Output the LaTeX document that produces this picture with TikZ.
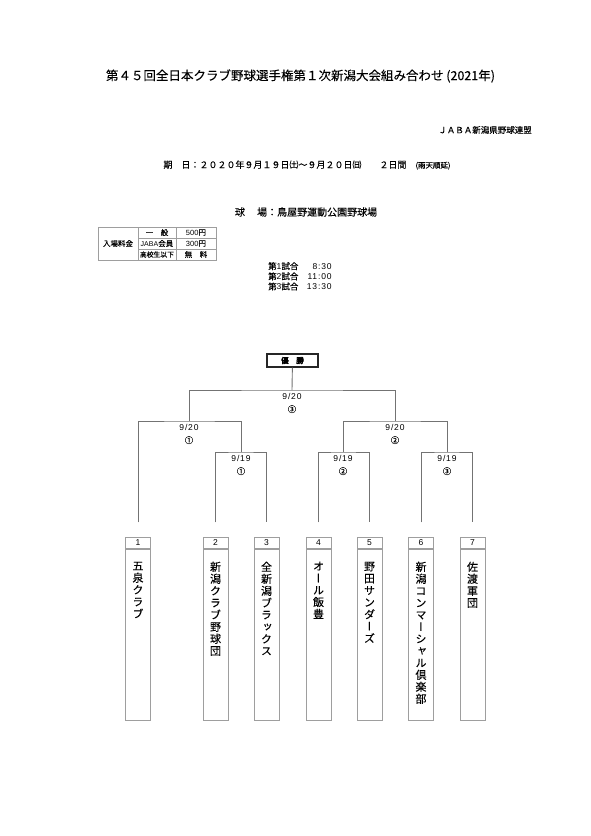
\documentclass[tikz,border=0pt]{standalone}
\usepackage{fontspec}
\setmainfont[FakeBold=0.12]{Noto Sans CJK JP}
\newfontfamily\tatefont[RawFeature=+vert,FakeBold=0.12]{Noto Sans CJK JP}
\newfontfamily\lat{Liberation Sans}
\newfontfamily\latw[LetterSpace=10]{Liberation Sans}
\usetikzlibrary{positioning}
\definecolor{linegray}{gray}{0.45}
\definecolor{boxgray}{gray}{0.62}
\tikzset{
  line/.style={draw=linegray,line width=0.9pt},
  numbox/.style={draw=boxgray,line width=0.6pt,minimum width=25pt,minimum height=10.5pt,inner sep=0pt,font=\lat\fontsize{8.5}{9}\selectfont},
  namebox/.style={draw=boxgray,line width=0.6pt,minimum width=25pt,minimum height=171pt,inner sep=0pt},
  tate/.style={font=\tatefont\fontsize{11}{12}\selectfont,align=center,inner sep=0pt},
  matchlbl/.style={font=\fontsize{8.5}{13}\selectfont,align=center,inner sep=0pt,anchor=north},
  cell/.style={font=\fontsize{7.5}{8}\selectfont,inner sep=0pt},
}
\begin{document}
\begin{tikzpicture}[x=1pt,y=-1pt]
\fill[white] (0,0) rectangle (591,836);
\useasboundingbox (0,0) rectangle (591,836);
% heading
\node[font=\fontsize{12.5}{14}\selectfont] (title) at (300.5,76) {第４５回全日本クラブ野球選手権第１次新潟大会組み合わせ (2021年)};
\node[font=\fontsize{8.5}{10}\selectfont,anchor=east,inner sep=0pt] (renmei) at (532,130) {ＪＡＢＡ新潟県野球連盟};
\node[font=\fontsize{9}{10}\selectfont] (kijitsu) at (307,165) {期　日：２０２０年９月１９日㈯～９月２０日㈰　　２日間　{\fontsize{7.5}{9}\selectfont(雨天順延)}};
\node[font=\fontsize{10}{12}\selectfont] (kyujo) at (306,212) {球　 場：鳥屋野運動公園野球場};
% admission table
\begin{scope}[draw=boxgray,line width=0.6pt]
\draw[line width=1pt] (98,227) rectangle (216,260);
\draw (138,227) -- (138,260);
\draw (176,227) -- (176,260);
\draw (138,238) -- (216,238);
\draw (138,249) -- (216,249);
\end{scope}
\node[cell] (ryokin) at (118,243.5) {入場料金};
\node[cell] (ippan) at (157,232.5) {一　般};
\node[cell] (jaba) at (157,243.5) {{\lat\fontsize{7}{8}\selectfont JABA}会員};
\node[cell,font=\fontsize{6.8}{7}\selectfont] (koko) at (157,254.5) {高校生以下};
\node[cell] (p1) at (196,232.5) {{\lat 500}円};
\node[cell] (p2) at (196,243.5) {{\lat 300}円};
\node[cell] (p3) at (196,254.5) {無　料};
% game times
\node[anchor=north west,inner sep=0pt,font=\fontsize{8.5}{10}\selectfont] (jikan) at (268,262) {\begin{tabular}{@{}l@{\quad}r@{}}第{\lat 1}試合 & {\latw 8:30}\\ 第{\lat 2}試合 & {\latw 11:00}\\ 第{\lat 3}試合 & {\latw 13:30}\end{tabular}};
% teams
\foreach \n/\x/\name in {1/138/{五\\泉\\ク\\ラ\\ブ},
  2/215.5/{新\\潟\\ク\\ラ\\ブ\\野\\球\\団},
  3/266.5/{全\\新\\潟\\ブ\\ラ\\ッ\\ク\\ス},
  4/318.5/{オ\\ー\\ル\\飯\\豊},
  5/369.5/{野\\田\\サ\\ン\\ダ\\ー\\ズ},
  6/421/{新\\潟\\コ\\ン\\マ\\ー\\シ\\ャ\\ル\\倶\\楽\\部},
  7/472.5/{佐\\渡\\軍\\団}}{
  \node[numbox] (t\n) at (\x,543) {\n};
  \node[namebox,below=0pt of t\n] (n\n) {};
  \node[tate,below=13pt of n\n.north] (name\n) {\name};
  \coordinate (e\n) at ([yshift=15pt]t\n.north);
}
% bracket
\node[draw=black!85,line width=1.4pt,minimum width=51pt,minimum height=13pt,inner sep=0pt,font=\bfseries\fontsize{7.5}{8}\selectfont] (yusho) at (292.5,360.5) {優　勝};
\coordinate (m1) at (241,452);
\coordinate (m2) at (343,452);
\coordinate (m3) at (447,452);
\coordinate (s1) at (189,421);
\coordinate (s2) at (395,421);
\coordinate (f) at (292,390);
\draw[line] (e2) |- (m1) -| (e3);
\draw[line] (e4) |- (m2) -| (e5);
\draw[line] (e6) |- (m3) -| (e7);
\draw[line] (e1) |- (s1) -| (m1);
\draw[line] (m2) |- (s2) -| (m3);
\draw[line] (s1) |- (f) -| (s2);
\draw[line] (yusho) -- (f);
% match labels
\node[matchlbl] at ([yshift=-3pt]f) {{\latw 9/20}\\③};
\node[matchlbl] at ([yshift=-3pt]s1) {{\latw 9/20}\\①};
\node[matchlbl] at ([yshift=-3pt]s2) {{\latw 9/20}\\②};
\node[matchlbl] at ([yshift=-3pt]m1) {{\latw 9/19}\\①};
\node[matchlbl] at ([yshift=-3pt]m2) {{\latw 9/19}\\②};
\node[matchlbl] at ([yshift=-3pt]m3) {{\latw 9/19}\\③};
\end{tikzpicture}
\end{document}
